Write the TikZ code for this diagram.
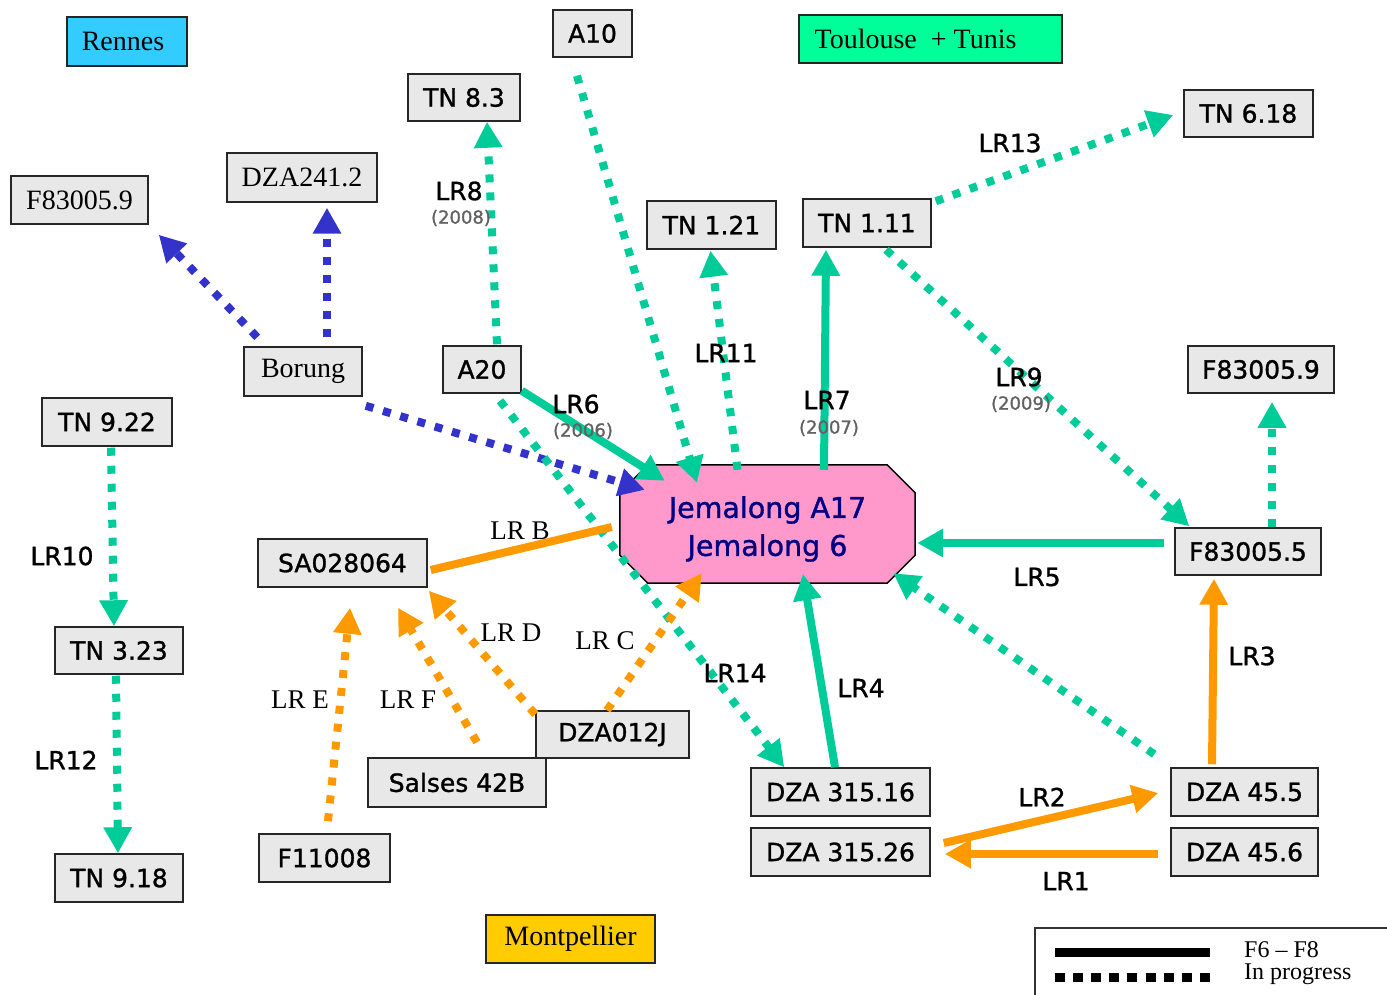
\documentclass[tikz,border=0pt]{standalone}
\usepackage{fontspec}
\setmainfont{Liberation Serif}
\newfontfamily\sansf{DejaVu Sans}[FakeBold=1.2]
\usetikzlibrary{arrows.meta,calc,backgrounds}
\definecolor{boxgray}{HTML}{E8E8E8}
\definecolor{lgreen}{HTML}{00CC99}
\definecolor{lorange}{HTML}{FF9900}
\definecolor{lblue}{HTML}{3333CC}
\definecolor{jpink}{HTML}{FF99CC}
\definecolor{jnavy}{HTML}{000080}
\definecolor{rcyan}{HTML}{33CCFF}
\definecolor{tgreen}{HTML}{00FF99}
\definecolor{myellow}{HTML}{FFCC00}
\begin{document}
\begin{tikzpicture}[x=1pt,y=-1pt,
 box/.style={draw=black!85, line width=1.5pt, fill=boxgray, inner sep=0pt,
   font=\sansf\fontsize{25pt}{30pt}\selectfont},
 sbox/.style={box, font=\rmfamily\fontsize{28pt}{32pt}\selectfont},
 lab/.style={font=\sansf\fontsize{25pt}{30pt}\selectfont, inner sep=0pt},
 slab/.style={font=\rmfamily\fontsize{27pt}{30pt}\selectfont, inner sep=0pt},
 yr/.style={font=\sansf\fontsize{18pt}{20pt}\selectfont, text=black!62, inner sep=0pt},
 leg/.style={font=\rmfamily\fontsize{24pt}{26pt}\selectfont, inner sep=0pt, anchor=west},
 solidarr/.style={line width=8pt, -{Triangle[length=26pt,width=27pt]}},
 solidline/.style={line width=8pt},
 dotarr/.style={line width=8pt, dash pattern=on 8pt off 10pt, -{Triangle[length=26pt,width=27pt]}},
]
\useasboundingbox (0,0) rectangle (1387,995);

% region boxes
\node[sbox, fill=rcyan, minimum width=120pt, minimum height=49pt] (rennes) at (127,41.5) {Rennes\hspace*{8pt}};
\node[sbox, fill=tgreen, minimum width=263pt, minimum height=48pt] (toulouse) at (930.5,39) {Toulouse~~+ Tunis\hspace*{30pt}};
\node[sbox, fill=myellow, minimum width=169pt, minimum height=48pt] (montp) at (570.5,939) {Montpellier};

% genotype boxes
\node[box, minimum width=79pt, minimum height=47pt] (a10) at (592.5,33.5) {A10};
\node[box, minimum width=112pt, minimum height=47pt] (tn83) at (464,97.5) {TN 8.3};
\node[box, minimum width=129pt, minimum height=47pt] (tn618) at (1248.5,113.5) {TN 6.18};
\node[sbox, minimum width=137pt, minimum height=48pt] (f83005L) at (79.5,200) {F83005.9};
\node[sbox, minimum width=150pt, minimum height=49pt] (dza2412) at (302,177.5) {DZA241.2};
\node[box, minimum width=129pt, minimum height=48pt] (tn121) at (711.5,225) {TN 1.21};
\node[box, minimum width=128pt, minimum height=48pt] (tn111) at (867,223) {TN 1.11};
\node[sbox, minimum width=118pt, minimum height=49pt] (borung) at (303,371.5) {Borung};
\node[box, minimum width=78pt, minimum height=47pt] (a20) at (482,369.5) {A20};
\node[box, minimum width=146pt, minimum height=47pt] (f83005R) at (1261,369.5) {F83005.9};
\node[box, minimum width=130pt, minimum height=48pt] (tn922) at (107,422) {TN 9.22};
\node[box, minimum width=146pt, minimum height=47pt] (f830055) at (1248,551.5) {F83005.5};
\node[box, minimum width=169pt, minimum height=48pt] (sa) at (342.5,563) {SA028064};
\node[box, minimum width=128pt, minimum height=47pt] (tn323) at (119,650.5) {TN 3.23};
\node[box, minimum width=153pt, minimum height=47pt] (dza012j) at (612.5,734.5) {DZA012J};
\node[box, minimum width=178pt, minimum height=49pt] (salses) at (457,782.5) {Salses 42B};
\node[box, minimum width=179pt, minimum height=48pt] (dza31516) at (840.5,792) {DZA 315.16};
\node[box, minimum width=147pt, minimum height=48pt] (dza455) at (1244.5,792) {DZA 45.5};
\node[box, minimum width=179pt, minimum height=48pt] (dza31526) at (840.5,852) {DZA 315.26};
\node[box, minimum width=147pt, minimum height=48pt] (dza456) at (1244.5,852) {DZA 45.6};
\node[box, minimum width=131pt, minimum height=48pt] (f11008) at (324.5,858) {F11008};
\node[box, minimum width=128pt, minimum height=48pt] (tn918) at (119,878) {TN 9.18};

% central node (octagon)
\node[minimum width=295pt, minimum height=118pt, inner sep=0pt, align=center, text=jnavy,
  font=\sansf\fontsize{28.5pt}{38pt}\selectfont] (jem) at (767.5,524)
  {\raisebox{-5pt}[\height][\depth]{Jemalong A17}\\\raisebox{-5pt}[\height][\depth]{Jemalong 6}};
\begin{scope}[on background layer]
\draw[line width=1.5pt, fill=jpink]
  ($(jem.north west)+(28,0)$) -- ($(jem.north east)+(-28,0)$) -- ($(jem.north east)+(0,28)$)
  -- ($(jem.south east)+(0,-28)$) -- ($(jem.south east)+(-28,0)$) -- ($(jem.south west)+(28,0)$)
  -- ($(jem.south west)+(0,-28)$) -- ($(jem.north west)+(0,28)$) -- cycle;
\end{scope}

% blue connectors (Rennes)
\draw[dotarr, lblue] ($(borung.north west)+(14,-9)$) -- ($(f83005L.south east)+(10,10)$);
\draw[dotarr, lblue] ($(borung.north)+(24,-9)$) -- ($(dza2412.south)+(25,5)$);
\draw[dotarr, lblue] ($(borung.south east)+(3,9)$) -- ($(jem.north west)+(25,25)$);

% green connectors
\draw[dotarr, lgreen] ($(a20.north)+(15,-1)$) -- ($(tn83.south)+(23,0)$);
\draw[dotarr, lgreen] ($(a10.south)+(-15.5,18)$) -- ($(jem.north)+(-70.5,18)$);
\draw[solidarr, lgreen] ($(a20.south east)+(0,-3)$) -- ($(jem.north west)+(45,16)$);
\draw[dotarr, lgreen] ($(jem.north)+(-30,5)$) -- ($(tn121.south)+(-1,1)$);
\draw[solidarr, lgreen] ($(jem.north)+(56.5,5)$) -- ($(tn111.south)+(-41,2)$);
\draw[dotarr, lgreen] ($(tn111.south)+(19,2)$) -- ($(f830055.north west)+(15,-1)$);
\draw[dotarr, lgreen] ($(tn111.north east)+(4,3)$) -- ($(tn618.west)+(-10,1.5)$);
\draw[dotarr, lgreen] ($(f830055.north)+(24,0)$) -- ($(f83005R.south)+(11,8)$);
\draw[solidarr, lgreen] ($(f830055.west)+(-10,-8.5)$) -- ($(jem.east)+(2,19)$);
\draw[dotarr, lgreen] ($(dza455.north west)+(-16,-13)$) -- ($(jem.south east)+(-22,-10)$);
\draw[solidarr, lgreen] ($(dza31516.north)+(-5.5,0)$) -- ($(jem.south)+(35.5,-9)$);
\draw[dotarr, lgreen] ($(a20.south)+(18,7)$) -- ($(dza31516.north west)+(34,0)$);
\draw[dotarr, lgreen] ($(tn922.south)+(4,1)$) -- ($(tn323.north)+(-5,0)$);
\draw[dotarr, lgreen] ($(tn323.south)+(-3,1)$) -- ($(tn918.north)+(-1,0)$);

% orange connectors
\draw[solidline, lorange] ($(sa.east)+(3,7)$) -- ($(jem.west)+(-8,3)$);
\draw[dotarr, lorange] ($(dza012j.north west)+(0,4)$) -- ($(sa.south east)+(1,3)$);
\draw[dotarr, lorange] ($(dza012j.north)+(-5.5,0)$) -- ($(jem.south west)+(82,-10)$);
\draw[dotarr, lorange] ($(salses.north)+(20,-15)$) -- ($(sa.south)+(55.5,20)$);
\draw[dotarr, lorange] ($(f11008.north)+(3.5,-12)$) -- ($(sa.south)+(7.5,20)$);
\draw[solidarr, lorange] ($(dza455.north)+(-32.5,-3)$) -- ($(f830055.south)+(-34,3)$);
\draw[solidarr, lorange] ($(dza31526.east)+(13,-9)$) -- ($(dza455.west)+(-12,1)$);
\draw[solidarr, lorange] ($(dza456.west)+(-12,2)$) -- ($(dza31526.east)+(14,2)$);

% connector labels
\node[lab] (l8) at (459,191) {LR8};
\node[yr] (y8) at (461,218) {(2008)};
\node[lab] (l6) at (576,404) {LR6};
\node[yr] (y6) at (583,431) {(2006)};
\node[lab] (l11) at (726,353) {LR11};
\node[lab] (l7) at (827,400) {LR7};
\node[yr] (y7) at (829,428) {(2007)};
\node[lab] (l9) at (1019,377) {LR9};
\node[yr] (y9) at (1021,404) {(2009)};
\node[lab] (l13) at (1010,143) {LR13};
\node[lab] (l5) at (1037,577) {LR5};
\node[lab] (l4) at (861,688) {LR4};
\node[lab] (l14) at (735,673) {LR14};
\node[lab] (l10) at (62,556) {LR10};
\node[lab] (l12) at (66,760) {LR12};
\node[lab] (l3) at (1252,656) {LR3};
\node[lab] (l2) at (1042,797) {LR2};
\node[lab] (l1) at (1066,881) {LR1};
\node[slab] (lb) at (520,531) {LR B};
\node[slab] (ld) at (511,633) {LR D};
\node[slab] (lc) at (605,641) {LR C};
\node[slab] (lf) at (408,700) {LR F};
\node[slab] (le) at (300,700) {LR E};

% legend
\draw[line width=1.5pt, black!80] (1387,928) -- (1035,928) -- (1035,995);
\draw[line width=9pt] (1055,952) -- (1210,952);
\draw[line width=9pt, dash pattern=on 10pt off 8.1pt] (1055,977) -- (1210,977);
\node[leg] (legA) at (1244,950) {F6 -- F8};
\node[leg] (legB) at (1244,974) {In progress};
\end{tikzpicture}
\end{document}
